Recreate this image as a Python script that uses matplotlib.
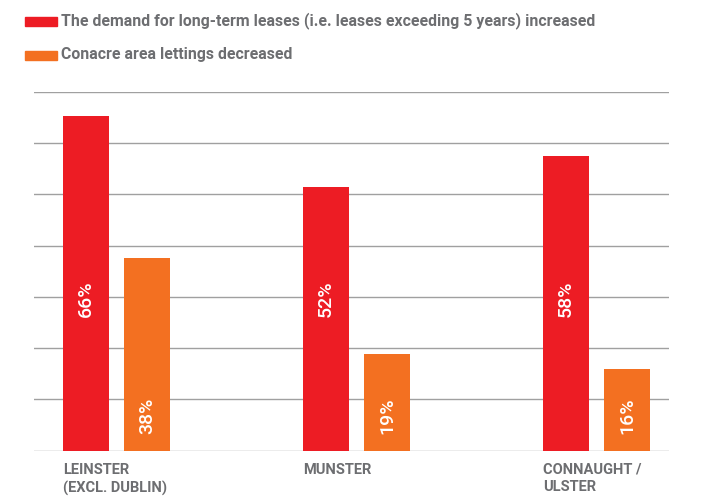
import numpy as np
import matplotlib
matplotlib.use("Agg")
import matplotlib.pyplot as plt
from matplotlib.patches import Rectangle
import matplotlib.transforms as mtransforms

regions = ["LEINSTER\n(EXCL. DUBLIN)", "MUNSTER", "CONNAUGHT /\nULSTER"]
long_term = [66, 52, 58]
conacre = [38, 19, 16]
series_names = ["The demand for long-term leases (i.e. leases exceeding 5 years) increased",
                "Conacre area lettings decreased"]

RED = "#ED1C24"
ORANGE = "#F37021"
GREY_TXT = "#6D6E71"
GRID = "#A0A0A0"
FONT = ["Roboto", "DejaVu Sans"]

fig = plt.figure(figsize=(7.03, 5.0), dpi=100)
ax = fig.add_axes([34/703, 1-450.7/500, (669-34)/703, (450.7-91.7)/500])

x = np.arange(len(regions))
w = 0.192
off = 0.127
ymax = 70.7
ax.set_xlim(-0.344, 2.302)
ax.set_ylim(0, ymax)
for gy in np.linspace(0, ymax, 8):
    ax.axhline(gy, color=GRID, lw=1.0, zorder=1)

ax.bar(x - off, long_term, width=w, color=RED, zorder=2)
ax.bar(x + off, conacre, width=w, color=ORANGE, zorder=2)

for xi, v in zip(x, long_term):
    ax.text(xi - off, 29.9, f"{v}%", rotation=90, ha="center", va="center",
            color="white", fontsize=14, family=FONT, fontweight="medium", zorder=3)
for xi, v in zip(x, conacre):
    ax.text(xi + off, 6.8, f"{v}%", rotation=90, ha="center", va="center",
            color="white", fontsize=14, family=FONT, fontweight="medium", zorder=3)

trans = mtransforms.blended_transform_factory(ax.transData, fig.transFigure)
for xi, lab in zip(x, regions):
    ax.text(xi - off - w/2, 1 - 463/500, lab, transform=trans, ha="left", va="top",
            color=GREY_TXT, fontsize=10.5, family=FONT, fontweight="bold",
            linespacing=1.3)

for spine in ax.spines.values():
    spine.set_visible(False)
ax.set_xticks([])
ax.set_yticks([])

# legend
for i, (name, col) in enumerate(zip(series_names, [RED, ORANGE])):
    yc = [21.5, 55.5][i]
    fig.patches.append(Rectangle((25/703, 1-(yc+4.5)/500), 32/703, 9/500,
                                 transform=fig.transFigure, color=col))
    fig.text(61/703, 1-(yc-1)/500, name, ha="left", va="center", color=GREY_TXT,
             fontsize=11.4, family=FONT, fontweight="bold")

fig.savefig("out.png", dpi=100)
